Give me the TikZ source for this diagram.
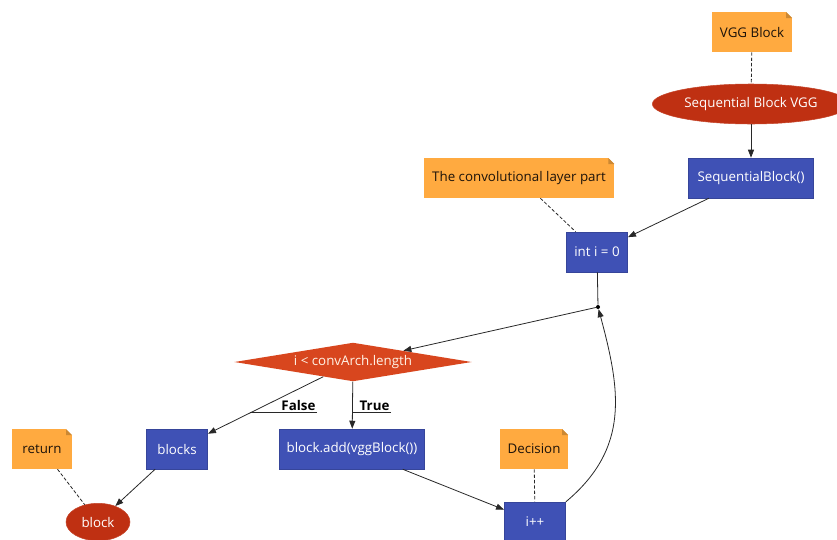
\documentclass[tikz,border=0pt]{standalone}
\usepackage{fontspec}
\setmainfont{Open Sans}
\usetikzlibrary{shapes.geometric,arrows.meta}

\definecolor{noteorange}{RGB}{255,170,64}
\definecolor{boxblue}{RGB}{63,81,181}
\definecolor{ovalred}{RGB}{191,48,18}
\definecolor{condred}{RGB}{216,70,30}
\definecolor{edgegray}{RGB}{40,40,40}

\tikzset{
  lbl/.style={font=\fontsize{10}{12}\selectfont},
  note/.style={lbl, rectangle, fill=noteorange, text=black!85!brown, inner sep=0pt,
    minimum height=30pt,
    path picture={
      \fill[white] (path picture bounding box.north east) -- ++(-4.5pt,0) -- ++(4.5pt,-4.5pt) -- cycle;
      \fill[noteorange!80!black] (path picture bounding box.north east) ++(-4.5pt,0) -- ++(0,-4.5pt) -- ++(4.5pt,0) -- cycle;
    }},
  box/.style={lbl, rectangle, fill=boxblue, draw=boxblue!85!black, text=white,
    inner sep=0pt, minimum height=30pt},
  oval/.style={lbl, ellipse, fill=ovalred, draw=ovalred!90!white, text=white, inner sep=0pt},
  cond/.style={lbl, diamond, fill=condred, text=white!90!orange, inner sep=0pt, aspect=6},
  joint/.style={circle, fill=black, inner sep=0pt, minimum size=3pt},
  flow/.style={draw=edgegray, line width=0.6pt},
  link/.style={draw=edgegray, line width=0.6pt, dashed, dash pattern=on 2.5pt off 1.5pt},
  edgelbl/.style={font=\fontsize{10}{12}\selectfont\bfseries, inner sep=1pt}
}

\begin{document}
\begin{tikzpicture}[x=0.75pt, y=-0.75pt, >={Triangle[length=6pt,width=4.5pt]}]
  \useasboundingbox (0,0) rectangle (837,539);

  % notes
  \node[note, minimum width=60pt] (vggnote) at (752,32) {VGG Block};
  \node[note, minimum width=143pt] (convnote) at (519,178) {The convolutional layer part};
  \node[note, minimum width=51pt] (decnote) at (534,449) {Decision};
  \node[note, minimum width=45pt] (retnote) at (42,449) {return};

  % flow nodes
  \node[oval, minimum width=148pt, minimum height=30pt] (seqvgg) at (751,104) {Sequential Block VGG};
  \node[box, minimum width=94pt] (seqblock) at (751,178) {SequentialBlock()};
  \node[box, minimum width=46pt] (init) at (597,252) {int i = 0};
  \node[joint] (join) at (598,307) {};
  \node[cond, minimum width=178pt, minimum height=29pt] (test) at (353,362) {i < convArch.length};
  \node[box, minimum width=46pt] (blocks) at (177,449) {blocks};
  \node[box, minimum width=109pt] (add) at (352,449) {block.add(vggBlock())};
  \node[box, minimum width=46pt] (inc) at (535,522) {i++};
  \node[oval, minimum width=48pt, minimum height=28pt] (block) at (98,522) {block};

  % edges
  \draw[link] (vggnote) -- (seqvgg);
  \draw[flow, ->] (seqvgg) -- (seqblock);
  \draw[flow, ->] (seqblock) -- (init);
  \draw[link] (convnote) -- (init);
  \draw[flow] (init) -- (join);
  \draw[flow, ->] (join) -- (test);
  \draw[flow, ->] (test) -- (blocks);
  \draw[flow, ->] (test) -- (add);
  \draw[flow, ->] (add) -- (inc);
  \draw[link] (decnote) -- (inc);
  \draw[flow, ->] (inc.north east) to[out=40, in=-75, looseness=1.1] (join);
  \draw[flow, ->] (blocks) -- (block);
  \draw[link] (retnote) -- (block);

  % branch labels
  \node[edgelbl, anchor=south east] (flbl) at (317,412) {False};
  \node[edgelbl, anchor=south east] (tlbl) at (391,412) {True};
  \draw[flow] (flbl.south east) -- ++(-67,0);
  \draw[flow] (tlbl.south east) -- ++(-39,0);
\end{tikzpicture}
\end{document}
